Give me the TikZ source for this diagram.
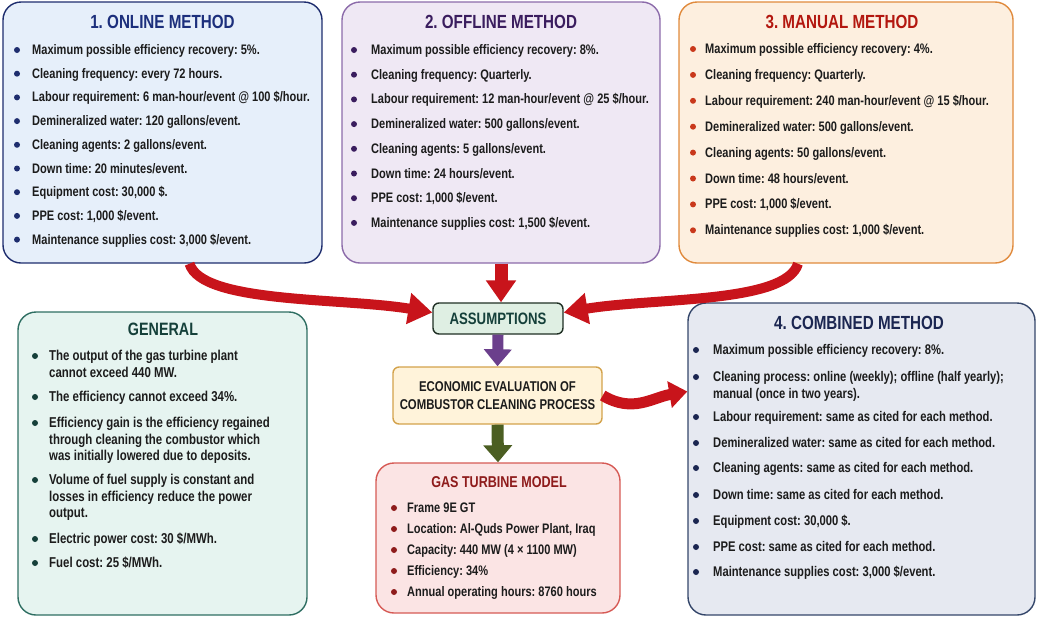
\documentclass[tikz,border=0pt]{standalone}
\usepackage{fontspec}
\setmainfont{Liberation Sans}[FakeStretch=0.8]
\usetikzlibrary{positioning,arrows.meta}
\frenchspacing

\definecolor{onlinefill}{HTML}{E6EFFA}
\definecolor{onlineline}{HTML}{1E2D6E}
\definecolor{onlinetitle}{HTML}{1C2F7C}
\definecolor{offlinefill}{HTML}{EFE8F4}
\definecolor{offlineline}{HTML}{8C6BAA}
\definecolor{offlinetitle}{HTML}{3A1D5E}
\definecolor{manualfill}{HTML}{FDEFDF}
\definecolor{manualline}{HTML}{E08A3C}
\definecolor{manualtitle}{HTML}{B3170F}
\definecolor{manualdot}{HTML}{C9381B}
\definecolor{generalfill}{HTML}{E6F4F0}
\definecolor{generalline}{HTML}{2E6E62}
\definecolor{generaltitle}{HTML}{15403A}
\definecolor{assumefill}{HTML}{DFEFE3}
\definecolor{assumeline}{HTML}{1F2F24}
\definecolor{econfill}{HTML}{FFF3DA}
\definecolor{econline}{HTML}{D3A24B}
\definecolor{gasfill}{HTML}{FBE4E4}
\definecolor{gasline}{HTML}{D65A55}
\definecolor{gastitle}{HTML}{8E1B1B}
\definecolor{combfill}{HTML}{E6E9F1}
\definecolor{combline}{HTML}{34466A}
\definecolor{combtitle}{HTML}{1B2651}
\definecolor{arrowred}{HTML}{C8141B}
\definecolor{arrowpurple}{HTML}{6B3F8C}
\definecolor{arrowgreen}{HTML}{4B5E22}
\definecolor{ink}{HTML}{1C1C1C}

\tikzset{
    box/.style={draw, rounded corners=18pt, line width=1.4pt},
    smallbox/.style={draw, rounded corners=6pt, line width=1.4pt},
    head/.style={inner sep=0pt, font=\bfseries\fontsize{19}{21}\selectfont},
    item/.style={anchor=base west, inner sep=0pt, align=left, text=ink,
        font=\bfseries\fontsize{13.8}{16.5}\selectfont},
    dot/.style={circle, inner sep=0pt, minimum size=6pt},
    redarrow/.style={draw=arrowred, line width=10pt, -{Triangle[width=30pt,length=24pt]}},
}

\begin{document}
\begin{tikzpicture}[x=1pt, y=-1pt]
\useasboundingbox (0,0) rectangle (1040,619);

% boxes
\node[box, draw=onlineline, fill=onlinefill, minimum width=319pt, minimum height=261pt] (online) at (162.5,132.5) {};
\node[box, draw=offlineline, fill=offlinefill, minimum width=318pt, minimum height=261pt] (offline) at (501,132.5) {};
\node[box, draw=manualline, fill=manualfill, minimum width=334pt, minimum height=261pt] (manual) at (846,132.5) {};
\node[box, draw=generalline, fill=generalfill, minimum width=289pt, minimum height=303pt] (general) at (162.5,463.5) {};
\node[box, draw=combline, fill=combfill, minimum width=347pt, minimum height=312pt] (combined) at (861.5,459) {};
\node[box, draw=gasline, fill=gasfill, minimum width=244pt, minimum height=150pt] (gas) at (498,538) {};
\node[smallbox, draw=assumeline, fill=assumefill, minimum width=130pt, minimum height=31pt,
    text=generaltitle, font=\bfseries\fontsize{16.5}{18}\selectfont] (assume) at (498,318.5) {ASSUMPTIONS};
\node[smallbox, draw=econline, fill=econfill, minimum width=209pt, minimum height=57pt, align=center,
    text=ink, font=\bfseries\fontsize{14.2}{18.5}\selectfont] (econ) at (497.5,395.5)
    {ECONOMIC EVALUATION OF\\COMBUSTOR CLEANING PROCESS};

% titles
\node[head, text=onlinetitle] (online-t) at (162.5,22) {1. ONLINE METHOD};
\node[head, text=offlinetitle] (offline-t) at (501,22) {2. OFFLINE METHOD};
\node[head, text=manualtitle] (manual-t) at (842,22) {3. MANUAL METHOD};
\node[head, text=generaltitle, font=\bfseries\fontsize{17.9}{20}\selectfont] (general-t) at (163,329) {GENERAL};
\node[head, text=combtitle] (combined-t) at (859,323) {4. COMBINED METHOD};
\node[head, text=gastitle, font=\bfseries\fontsize{15.7}{18}\selectfont] (gas-t) at (499,482) {GAS TURBINE MODEL};

% bullet lists
\foreach \t [count=\i] in {{Maximum possible efficiency recovery: 5\%.},
    {Cleaning frequency: every 72 hours.},
    {Labour requirement: 6 man-hour/event @ 100 \$/hour.},
    {Demineralized water: 120 gallons/event.},
    {Cleaning agents: 2 gallons/event.},
    {Down time: 20 minutes/event.},
    {Equipment cost: 30,000 \$.},
    {PPE cost: 1,000 \$/event.},
    {Maintenance supplies cost: 3,000 \$/event.}}
{
    \node[dot, fill=onlineline] (online-b\i) at (17,26.3+23.7*\i) {};
    \node[item] (online-\i) at (32,30.8+23.7*\i) {\t};
}

\foreach \t [count=\i] in {{Maximum possible efficiency recovery: 8\%.},
    {Cleaning frequency: Quarterly.},
    {Labour requirement: 12 man-hour/event @ 25 \$/hour.},
    {Demineralized water: 500 gallons/event.},
    {Cleaning agents: 5 gallons/event.},
    {Down time: 24 hours/event.},
    {PPE cost: 1,000 \$/event.},
    {Maintenance supplies cost: 1,500 \$/event.}}
{
    \node[dot, fill=offlinetitle] (offline-b\i) at (354,25.3+24.7*\i) {};
    \node[item] (offline-\i) at (371,29.8+24.7*\i) {\t};
}

\foreach \t [count=\i] in {{Maximum possible efficiency recovery: 4\%.},
    {Cleaning frequency: Quarterly.},
    {Labour requirement: 240 man-hour/event @ 15 \$/hour.},
    {Demineralized water: 500 gallons/event.},
    {Cleaning agents: 50 gallons/event.},
    {Down time: 48 hours/event.},
    {PPE cost: 1,000 \$/event.},
    {Maintenance supplies cost: 1,000 \$/event.}}
{
    \node[dot, fill=manualdot] (manual-b\i) at (693,23.1+25.9*\i) {};
    \node[item] (manual-\i) at (705,27.6+25.9*\i) {\t};
}

% base of a multi-line node sits on its last line, hence \n
\foreach \y/\n/\t [count=\i] in {356/1/{The output of the gas turbine plant\\cannot exceed 440 MW.},
    397/0/{The efficiency cannot exceed 34\%.},
    423/2/{Efficiency gain is the efficiency regained\\through cleaning the combustor which\\was initially lowered due to deposits.},
    480/2/{Volume of fuel supply is constant and\\losses in efficiency reduce the power\\output.},
    539/0/{Electric power cost: 30 \$/MWh.},
    563/0/{Fuel cost: 25 \$/MWh.}}
{
    \node[dot, fill=generaltitle] (general-b\i) at (35,\y) {};
    \node[item, font=\bfseries\fontsize{14.3}{16.5}\selectfont] (general-\i) at (49,\y+4.8+16.5*\n) {\t};
}

\foreach \y/\n/\t [count=\i] in {350/0/{Maximum possible efficiency recovery: 8\%.},
    377/1/{Cleaning process: online (weekly); offline (half yearly);\\manual (once in two years).},
    417/0/{Labour requirement: same as cited for each method.},
    443/0/{Demineralized water: same as cited for each method.},
    468/0/{Cleaning agents: same as cited for each method.},
    495/0/{Down time: same as cited for each method.},
    521/0/{Equipment cost: 30,000 \$.},
    547/0/{PPE cost: same as cited for each method.},
    572/0/{Maintenance supplies cost: 3,000 \$/event.}}
{
    \node[dot, fill=combtitle] (combined-b\i) at (696,\y) {};
    \node[item, font=\bfseries\fontsize{14}{17}\selectfont] (combined-\i) at (713,\y+4.8+17*\n) {\t};
}

\foreach \t [count=\i] in {{Frame 9E GT},
    {Location: Al-Quds Power Plant, Iraq},
    {Capacity: 440 MW (4 × 1100 MW)},
    {Efficiency: 34\%},
    {Annual operating hours: 8760 hours}}
{
    \node[dot, fill=gastitle] (gas-b\i) at (394,487+21*\i) {};
    \node[item] (gas-\i) at (407,491.8+21*\i) {\t};
}

% arrows
\coordinate (tip) at (econ.east -| combined.west);
\draw[redarrow] ([xshift=27pt]online.south) .. controls +(12,40) and +(-90,-15) .. ([yshift=6pt]assume.west);
\draw[redarrow] ([xshift=-48pt]manual.south) .. controls +(-12,40) and +(90,-15) .. ([yshift=6pt]assume.east);
\draw[redarrow, line width=13pt, -{Triangle[width=29pt,length=22pt]}] (offline.south) -- (offline.south |- assume.north);
\draw[draw=arrowpurple, line width=11pt, -{Triangle[width=27pt,length=17pt]}] (assume.south) -- (econ.north);
\draw[draw=arrowgreen, line width=12pt, -{Triangle[width=28pt,length=17pt]}] (econ.south) -- (gas.north);
\draw[redarrow, line width=11pt, -{Triangle[width=26pt,length=18pt]}] (econ.east) .. controls +(30,18) and +(-35,6) .. ([yshift=4pt]tip);

\end{tikzpicture}
\end{document}
